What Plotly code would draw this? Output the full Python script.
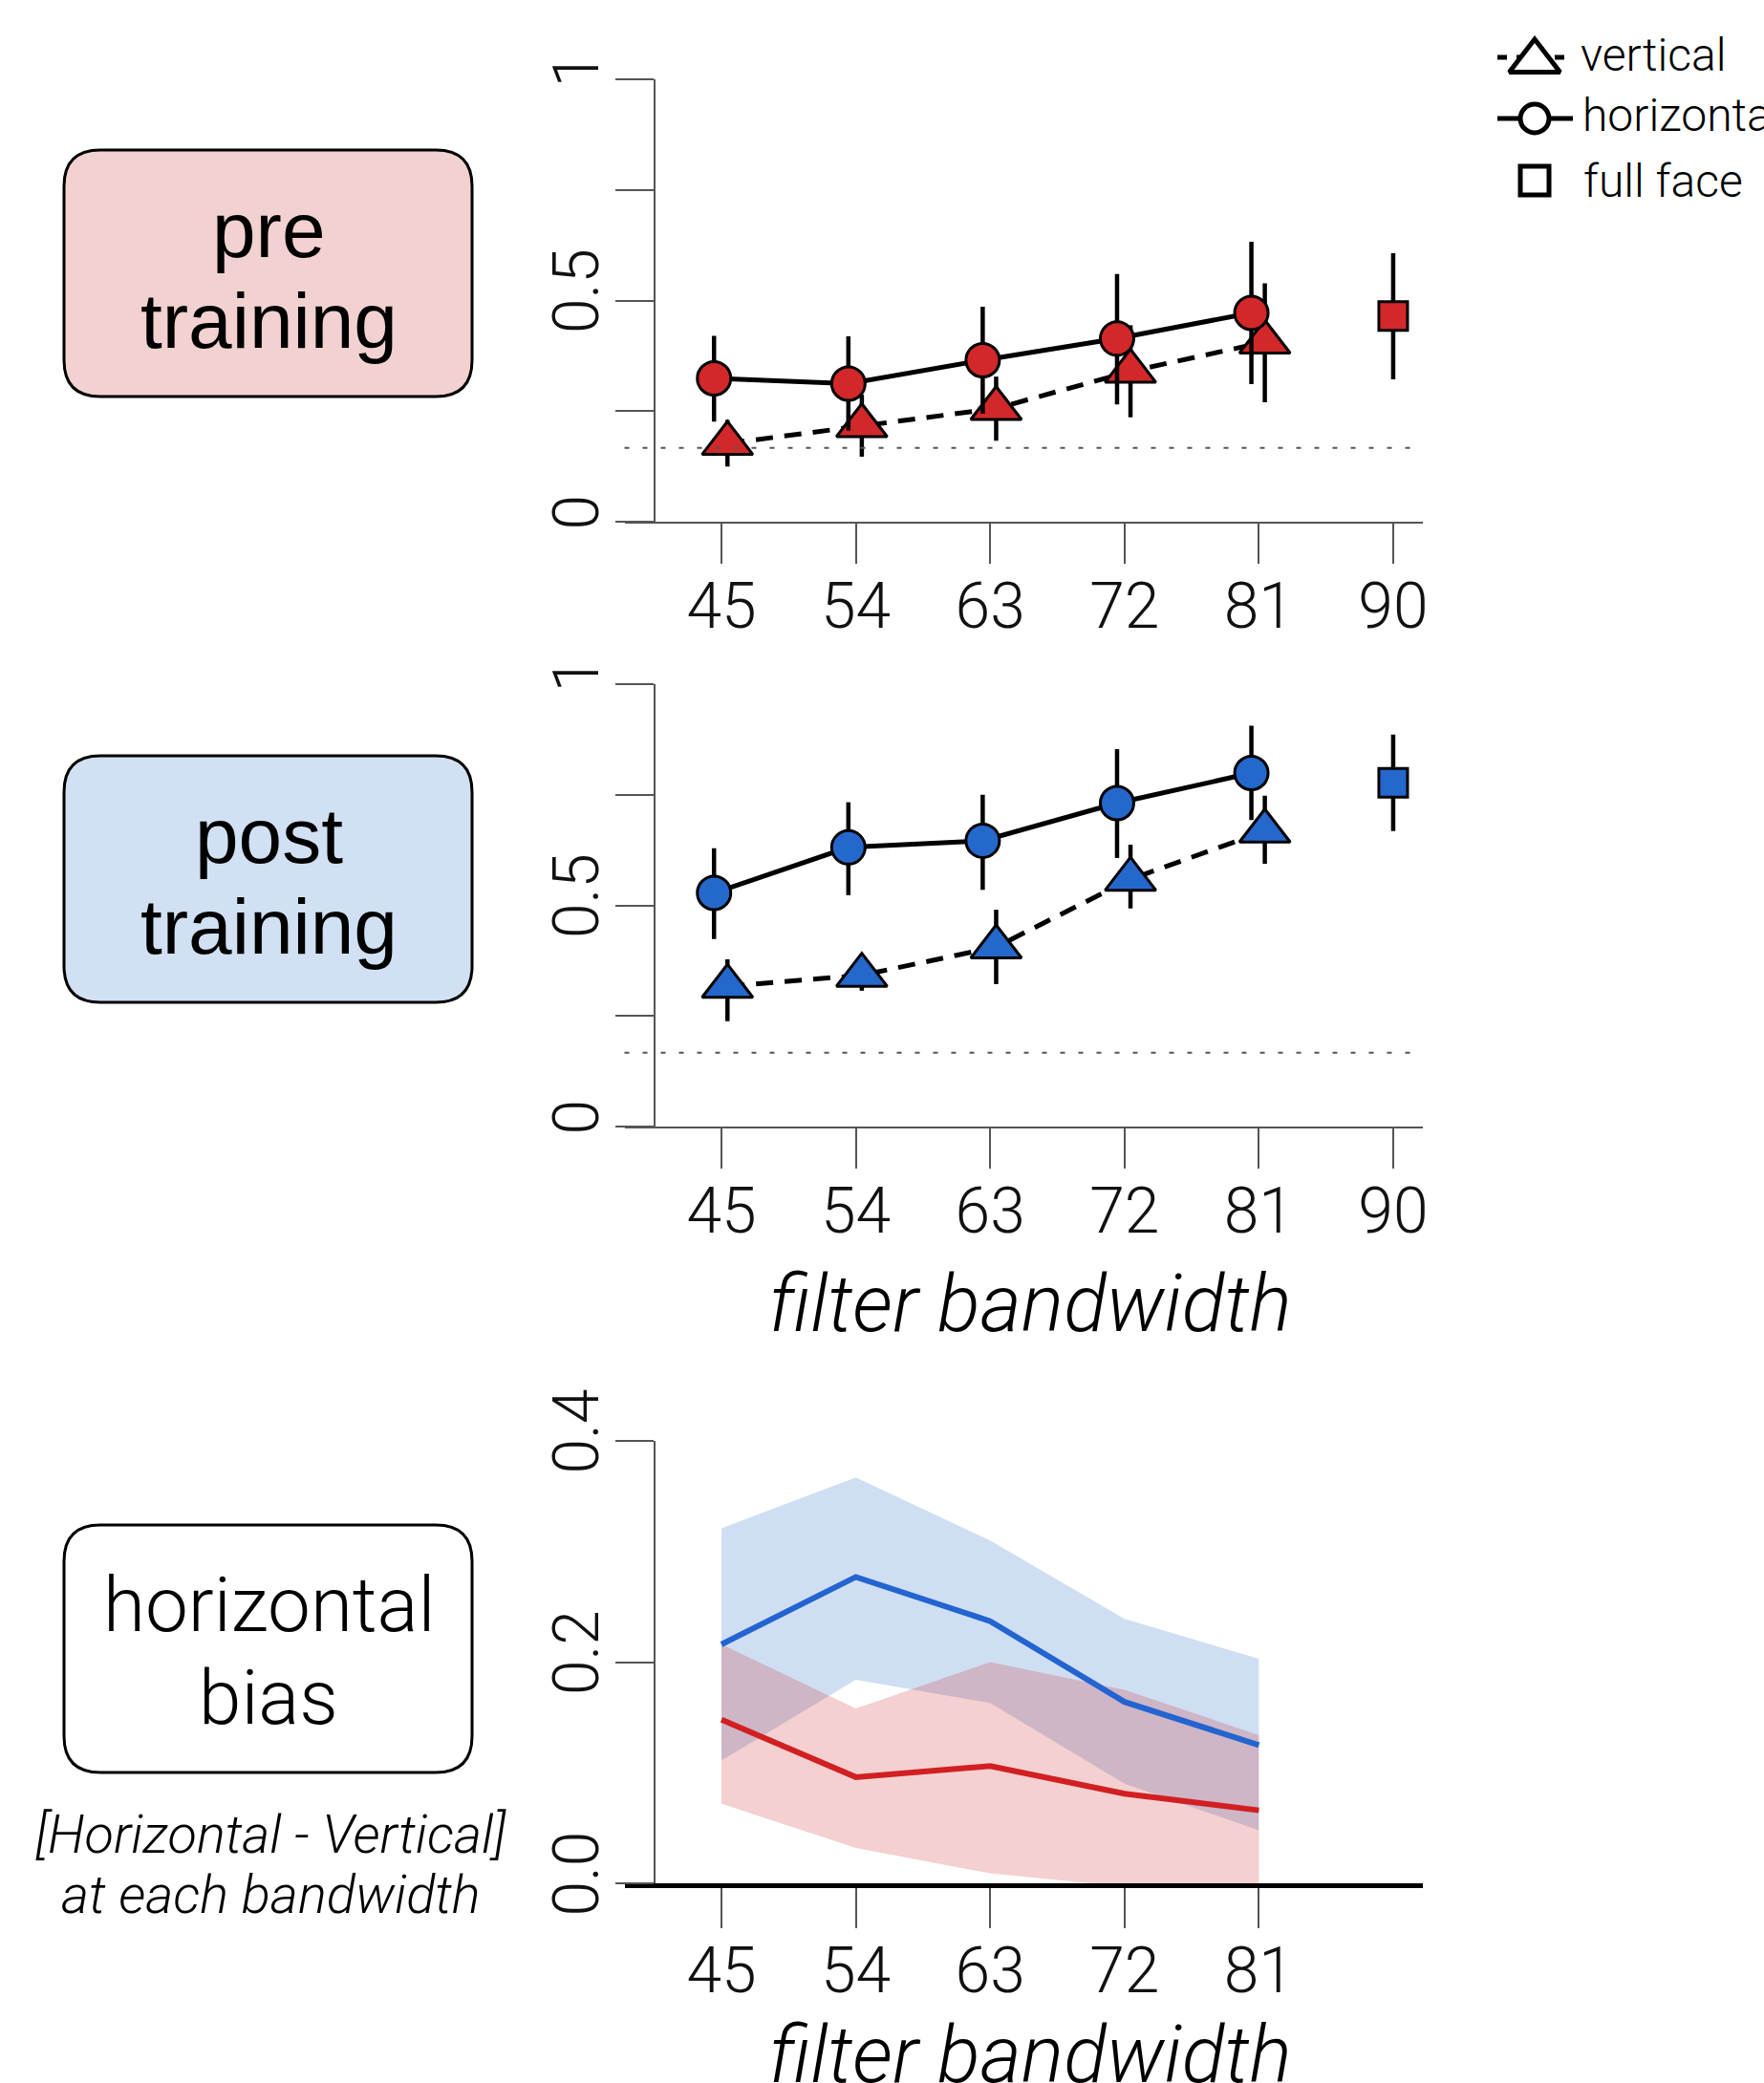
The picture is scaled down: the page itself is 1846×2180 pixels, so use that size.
import plotly.graph_objects as go

W, H = 1846, 2180

# ---------------- data ----------------
bandwidth = [45, 54, 63, 72, 81]
full_face_bw = [90]
x_tick_vals = [45, 54, 63, 72, 81, 90]
x_tick_text = ["45", "54", "63", "72", "81", "90"]
bias_x_tick_vals = [45, 54, 63, 72, 81]
bias_x_tick_text = ["45", "54", "63", "72", "81"]
acc_tick_vals = [0, 0.25, 0.5, 0.75, 1]
acc_tick_text = ["0", "", "0.5", "", "1"]
bias_tick_vals = [0.0, 0.2, 0.4]
bias_tick_text = ["0.0", "0.2", "0.4"]
chance_level = 1 / 6

# pre training accuracy
pre_horizontal = [0.324, 0.312, 0.365, 0.414, 0.472]
pre_horizontal_hi = [0.420, 0.419, 0.486, 0.560, 0.633]
pre_horizontal_lo = [0.226, 0.206, 0.244, 0.265, 0.311]
pre_vertical = [0.177, 0.217, 0.256, 0.340, 0.406]
pre_vertical_hi = [0.230, 0.287, 0.328, 0.444, 0.539]
pre_vertical_lo = [0.125, 0.147, 0.183, 0.236, 0.270]
pre_full = [0.465]
pre_full_hi = [0.607]
pre_full_lo = [0.322]

# post training accuracy
post_horizontal = [0.528, 0.631, 0.646, 0.731, 0.799]
post_horizontal_hi = [0.629, 0.733, 0.750, 0.853, 0.906]
post_horizontal_lo = [0.424, 0.523, 0.535, 0.607, 0.693]
post_vertical = [0.317, 0.342, 0.406, 0.559, 0.668]
post_vertical_hi = [0.378, 0.377, 0.490, 0.637, 0.748]
post_vertical_lo = [0.238, 0.307, 0.322, 0.493, 0.594]
post_full = [0.777]
post_full_hi = [0.886]
post_full_lo = [0.668]

# horizontal bias = horizontal - vertical, with confidence bands
pre_bias = [0.148, 0.096, 0.106, 0.081, 0.066]
pre_bias_hi = [0.216, 0.158, 0.200, 0.175, 0.134]
pre_bias_lo = [0.072, 0.032, 0.009, -0.003, -0.002]
post_bias = [0.216, 0.277, 0.237, 0.164, 0.125]
post_bias_hi = [0.321, 0.367, 0.310, 0.239, 0.203]
post_bias_lo = [0.111, 0.184, 0.163, 0.090, 0.048]

# ---------------- styling ----------------
RED = "#d3282a"
BLUE = "#2568cc"
RED_LINE = "#d21f22"
BLUE_LINE = "#2264d0"
RED_BAND = "rgba(205,35,35,0.21)"
BLUE_BAND = "rgba(30,100,200,0.21)"
AXIS_GRAY = "#555555"
SANS = "Liberation Sans, Arial, sans-serif"
LIGHT = "Roboto, Liberation Sans, sans-serif"
CIRCLE_SHIFT = -0.5
TRIANGLE_SHIFT = 0.4


def fx(p):
    return p / W


def fy(p):
    return 1 - p / H


X_DOMAIN = [fx(653.5), fx(1489.2)]
X_RANGE = [38.5, 92]
SPINE_X = fx(685)

tick_font = dict(family=LIGHT, size=66, color="#111111", weight=300)

fig = go.Figure()


def accuracy_panel(xa, ya, color, horiz, h_hi, h_lo, vert, v_hi, v_lo, full, f_hi, f_lo):
    xh = [b + CIRCLE_SHIFT for b in bandwidth]
    xv = [b + TRIANGLE_SHIFT for b in bandwidth]
    marker_line = dict(color="black", width=3)
    # vertical (triangles, dashed)
    fig.add_trace(go.Scatter(
        x=xv, y=vert, mode="lines+markers", xaxis=xa, yaxis=ya,
        line=dict(color="black", width=5, dash="18px,12px"),
        marker=dict(symbol="triangle-up", size=46, color=color, line=marker_line),
        error_y=dict(type="data", symmetric=False,
                     array=[h - v for h, v in zip(v_hi, vert)],
                     arrayminus=[v - l for v, l in zip(vert, v_lo)],
                     color="black", thickness=4.5, width=0),
        cliponaxis=False, hoverinfo="skip"))
    # horizontal (circles, solid)
    fig.add_trace(go.Scatter(
        x=xh, y=horiz, mode="lines+markers", xaxis=xa, yaxis=ya,
        line=dict(color="black", width=5),
        marker=dict(symbol="circle", size=35, color=color, line=marker_line),
        error_y=dict(type="data", symmetric=False,
                     array=[h - v for h, v in zip(h_hi, horiz)],
                     arrayminus=[v - l for v, l in zip(horiz, h_lo)],
                     color="black", thickness=4.5, width=0),
        cliponaxis=False, hoverinfo="skip"))
    # full face (square)
    fig.add_trace(go.Scatter(
        x=full_face_bw, y=full, mode="markers", xaxis=xa, yaxis=ya,
        marker=dict(symbol="square", size=30, color=color, line=marker_line),
        error_y=dict(type="data", symmetric=False,
                     array=[h - v for h, v in zip(f_hi, full)],
                     arrayminus=[v - l for v, l in zip(full, f_lo)],
                     color="black", thickness=4.5, width=0),
        cliponaxis=False, hoverinfo="skip"))


accuracy_panel("x", "y", RED, pre_horizontal, pre_horizontal_hi, pre_horizontal_lo,
               pre_vertical, pre_vertical_hi, pre_vertical_lo, pre_full, pre_full_hi, pre_full_lo)
accuracy_panel("x2", "y2", BLUE, post_horizontal, post_horizontal_hi, post_horizontal_lo,
               post_vertical, post_vertical_hi, post_vertical_lo, post_full, post_full_hi, post_full_lo)

# bias bands and lines
for hi, lo, band in [(post_bias_hi, post_bias_lo, BLUE_BAND), (pre_bias_hi, pre_bias_lo, RED_BAND)]:
    fig.add_trace(go.Scatter(
        x=bandwidth + bandwidth[::-1], y=hi + lo[::-1], xaxis="x3", yaxis="y3",
        mode="lines", fill="toself", fillcolor=band, line=dict(width=0),
        hoverinfo="skip"))
for vals, col in [(post_bias, BLUE_LINE), (pre_bias, RED_LINE)]:
    fig.add_trace(go.Scatter(
        x=bandwidth, y=vals, xaxis="x3", yaxis="y3", mode="lines",
        line=dict(color=col, width=6), hoverinfo="skip"))

# legend symbols on a hidden pixel-scaled subplot
legend_line = dict(color="black", width=5)
fig.add_trace(go.Scatter(x=[17, 90], y=[160, 160], xaxis="x4", yaxis="y4", mode="lines",
                         line=dict(color="black", width=5, dash="10px,10px"), hoverinfo="skip"))
fig.add_trace(go.Scatter(x=[56], y=[156], xaxis="x4", yaxis="y4", mode="markers",
                         marker=dict(symbol="triangle-up", size=46, color="white", line=legend_line),
                         cliponaxis=False, hoverinfo="skip"))
fig.add_trace(go.Scatter(x=[17, 96], y=[96, 96], xaxis="x4", yaxis="y4", mode="lines",
                         line=dict(color="black", width=5), hoverinfo="skip"))
fig.add_trace(go.Scatter(x=[56], y=[96], xaxis="x4", yaxis="y4", mode="markers",
                         marker=dict(symbol="circle", size=30, color="white", line=legend_line),
                         cliponaxis=False, hoverinfo="skip"))
fig.add_trace(go.Scatter(x=[56], y=[31], xaxis="x4", yaxis="y4", mode="markers",
                         marker=dict(symbol="square", size=30, color="white", line=legend_line),
                         cliponaxis=False, hoverinfo="skip"))


def xaxis_cfg(tickvals, ticktext, linewidth=2, linecolor=AXIS_GRAY):
    return dict(domain=X_DOMAIN, range=X_RANGE, tickvals=tickvals, ticktext=ticktext,
                ticks="outside", ticklen=42, tickwidth=2, tickcolor=AXIS_GRAY,
                showline=True, linecolor=linecolor, linewidth=linewidth,
                showgrid=False, zeroline=False, tickfont=tick_font,
                ticklabelstandoff=-12, fixedrange=True, automargin=False)


def yaxis_cfg(domain_px, rng, tickvals, ticktext):
    return dict(domain=[fy(domain_px[0]), fy(domain_px[1])], range=rng,
                anchor="free", position=SPINE_X,
                tickvals=tickvals, ticktext=ticktext, tickangle=-90,
                ticks="outside", ticklen=40, tickwidth=2, tickcolor=AXIS_GRAY,
                showline=True, linecolor=AXIS_GRAY, linewidth=2,
                showgrid=False, zeroline=False, tickfont=tick_font,
                ticklabelstandoff=-8, fixedrange=True, automargin=False)


shapes = []
# chance level (1 in 6) dotted lines
for yref in ["y", "y2"]:
    shapes.append(dict(type="line", xref=("x domain" if yref == "y" else "x2 domain"), yref=yref,
                       x0=0, x1=0.985, y0=chance_level, y1=chance_level,
                       line=dict(color="#555555", width=2, dash="5px,14px")))


def rounded_box(x0, y0, x1, y1, r, fill):
    def P(px, py):
        return f"{fx(px):.5f},{fy(py):.5f}"
    path = (f"M{P(x0 + r, y0)} L{P(x1 - r, y0)} Q{P(x1, y0)} {P(x1, y0 + r)} "
            f"L{P(x1, y1 - r)} Q{P(x1, y1)} {P(x1 - r, y1)} "
            f"L{P(x0 + r, y1)} Q{P(x0, y1)} {P(x0, y1 - r)} "
            f"L{P(x0, y0 + r)} Q{P(x0, y0)} {P(x0 + r, y0)} Z")
    return dict(type="path", xref="paper", yref="paper", path=path,
                fillcolor=fill, line=dict(color="black", width=3), layer="below")


shapes.append(rounded_box(67, 157, 494, 415, 38, "#f2d1d1"))
shapes.append(rounded_box(67, 791, 494, 1049, 38, "#d2e0f4"))
shapes.append(rounded_box(67, 1596, 494, 1855, 38, "white"))

annotations = []


def label(text, px, py, size, family=SANS, italic=False, weight=400, xanchor="center"):
    annotations.append(dict(text=text, xref="paper", yref="paper", x=fx(px), y=fy(py),
                            xanchor=xanchor, yanchor="middle", showarrow=False,
                            font=dict(family=family, size=size, color="black",
                                      style="italic" if italic else "normal", weight=weight)))


label("pre", 281, 240, 82)
label("training", 281, 335, 82)
label("post", 281, 874, 82)
label("training", 281, 969, 82)
label("horizontal", 281, 1680, 80, family=LIGHT, weight=300)
label("bias", 281, 1777, 80, family=LIGHT, weight=300)
label("[Horizontal - Vertical]", 283, 1920, 56, family=LIGHT, italic=True, weight=300)
label("at each bandwidth", 283, 1983, 56, family=LIGHT, italic=True, weight=300)
label("filter bandwidth", 1078, 1364, 83, family=LIGHT, italic=True, weight=300)
label("filter bandwidth", 1078, 2150, 83, family=LIGHT, italic=True, weight=300)
label("vertical", 1652, 58, 48, family=LIGHT, weight=300, xanchor="left")
label("horizontal", 1654, 121, 48, family=LIGHT, weight=300, xanchor="left")
label("full face", 1655, 189, 48, family=LIGHT, weight=300, xanchor="left")

fig.update_layout(
    width=W, height=H, margin=dict(l=0, r=0, t=0, b=0, autoexpand=False),
    paper_bgcolor="white", plot_bgcolor="rgba(0,0,0,0)", showlegend=False,
    xaxis=xaxis_cfg(x_tick_vals, x_tick_text),
    yaxis=yaxis_cfg((546, 83), [0, 1], acc_tick_vals, acc_tick_text),
    xaxis2=dict(xaxis_cfg(x_tick_vals, x_tick_text), anchor="y2"),
    yaxis2=yaxis_cfg((1179, 716), [0, 1], acc_tick_vals, acc_tick_text),
    xaxis3=dict(xaxis_cfg(bias_x_tick_vals, bias_x_tick_text, linewidth=5, linecolor="black"),
                anchor="y3"),
    yaxis3=yaxis_cfg((1971, 1508), [0, 0.4], bias_tick_vals, bias_tick_text),
    xaxis4=dict(domain=[fx(1550), 1.0], range=[0, 296], visible=False, anchor="y4",
                fixedrange=True, automargin=False),
    yaxis4=dict(domain=[fy(220), fy(20)], range=[0, 200], visible=False, anchor="x4",
                fixedrange=True, automargin=False),
    shapes=shapes, annotations=annotations,
)

fig.write_html("out.html")
